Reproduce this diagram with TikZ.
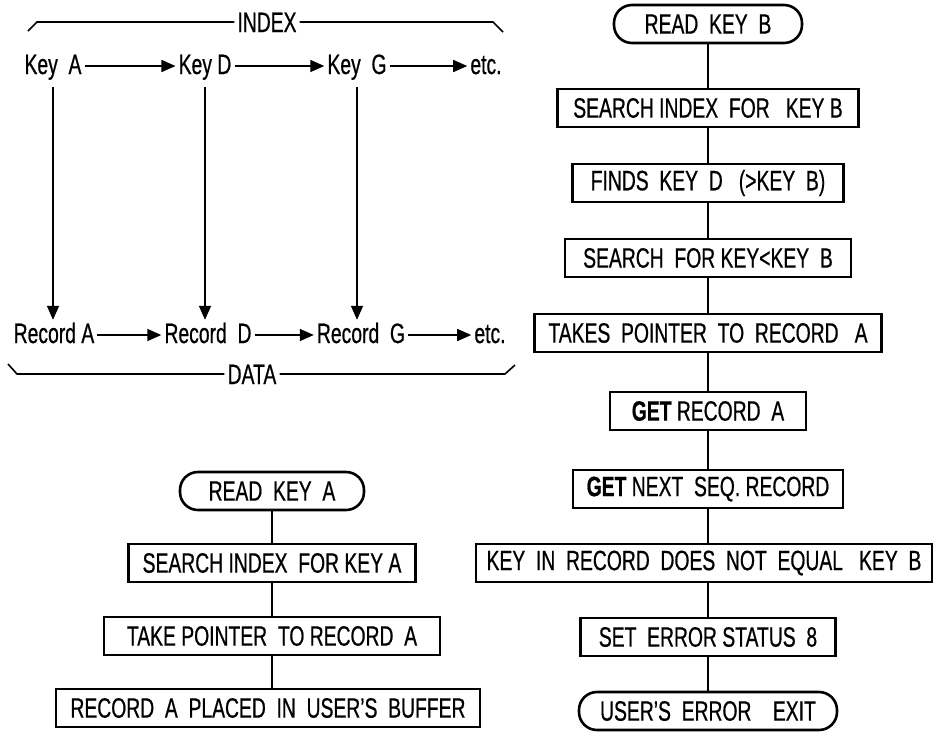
\documentclass[tikz,border=0pt]{standalone}
\usepackage{fontspec}
\setmainfont{Liberation Sans}[FakeStretch=0.69, FakeBold=0.6]
\usetikzlibrary{arrows.meta,positioning}

\begin{document}
\begin{tikzpicture}[x=1pt, y=-1pt,
  lbl/.style={font=\fontsize{28}{30}\selectfont, inner sep=3pt, text height=20pt, text depth=4pt},
  proc/.style={draw, line width=2.6pt, font=\fontsize{28}{30}\selectfont, minimum height=38pt, inner sep=3pt},
  term/.style={proc, rounded corners=18pt},
  arr/.style={-{Triangle[length=14pt, width=12pt]}, line width=1.5pt},
  con/.style={line width=1.6pt}]
  \useasboundingbox (0,0) rectangle (934,732);
  % index and data chains (top left)
  \node[lbl] (idx) at (267,24)  {INDEX};
  \node[lbl] (ka)  at (53,66)   {Key\ \ A};
  \node[lbl] (kd)  at (205,66)  {Key D};
  \node[lbl] (kg)  at (357,66)  {Key\ \ G};
  \node[lbl] (ke)  at (486,66)  {etc.};
  \node[lbl] (ra)  at (54,335)  {Record A};
  \node[lbl] (rd)  at (208,335) {Record\ \ D};
  \node[lbl] (rg)  at (361,335) {Record\ \ G};
  \node[lbl] (re)  at (490,335) {etc.};
  \node[lbl] (dat) at (252,376) {DATA};
  \draw[con] (28,31) -- (37,22) -- (idx.west |- 0,22);
  \draw[con] (idx.east |- 0,22) -- (493,22) -- (503,32);
  \draw[con] (8,364) -- (17,374) -- (dat.west |- 0,374);
  \draw[con] (dat.east |- 0,374) -- (505,374) -- (515,365);
  \draw[arr] (ka) -- (kd);
  \draw[arr] (kd) -- (kg);
  \draw[arr] (kg) -- (ke);
  \draw[arr] (ra) -- (rd);
  \draw[arr] (rd) -- (rg);
  \draw[arr] (rg) -- (re);
  \draw[arr, shorten <=6pt] (ka.south) -- (ka.south |- ra.north);
  \draw[arr, shorten <=6pt] (kd.south) -- (kd.south |- rd.north);
  \draw[arr, shorten <=6pt] (kg.south) -- (kg.south |- rg.north);
  % read key A (bottom left)
  \node[term, minimum width=184pt] (rka) at (272,491) {READ\ \ KEY\ \ A};
  \node[proc, minimum width=287pt] (sia) at (272,563) {SEARCH INDEX\ \ FOR KEY A};
  \node[proc, minimum width=336pt] (tpr) at (272,636) {TAKE POINTER\ \ TO RECORD\ \ A};
  \node[proc, minimum width=424pt] (rpb) at (268,708) {RECORD\ \ A\ \ PLACED\ \ IN\ \ USER'S\ \ BUFFER};
  \draw[con] (rka) -- (sia);
  \draw[con] (sia) -- (tpr);
  \draw[con] (tpr) -- (tpr.south |- rpb.north);
  % read key B (right)
  \node[term, minimum width=188pt] (rkb) at (708,24)  {READ\ \ KEY\ \ B};
  \node[proc, minimum width=301pt] (sib) at (708,108) {SEARCH INDEX\ \ FOR\ \ \ KEY B};
  \node[proc, minimum width=271pt] (fkd) at (708,183) {FINDS\ \ KEY\ \ D\ \ \ (>KEY\ \ B)};
  \node[proc, minimum width=286pt] (sfk) at (708,258) {SEARCH\ \ FOR KEY<KEY\ \ B};
  \node[proc, minimum width=347pt] (tpa) at (708,333) {TAKES\ \ POINTER\ \ TO\ \ RECORD\ \ \ A};
  \node[proc, minimum width=196pt] (gra) at (708,411) {\textbf{GET} RECORD\ \ A};
  \node[proc, minimum width=270pt] (gns) at (708,489) {\textbf{GET} NEXT\ \ SEQ. RECORD};
  \node[proc, minimum width=456pt] (kne) at (704,563) {KEY\ \ IN\ \ RECORD\ \ DOES\ \ NOT\ \ EQUAL\ \ \ KEY\ \ B};
  \node[proc, minimum width=255pt] (ses) at (708,637) {SET\ \ ERROR STATUS\ \ 8};
  \node[term, minimum width=258pt] (uee) at (708,711) {USER'S\ \ ERROR\ \ \ \ EXIT};
  \draw[con] (rkb) -- (sib);
  \draw[con] (sib) -- (fkd);
  \draw[con] (fkd) -- (sfk);
  \draw[con] (sfk) -- (tpa);
  \draw[con] (tpa) -- (gra);
  \draw[con] (gra) -- (gns);
  \draw[con] (gns) -- (gns.south |- kne.north);
  \draw[con] (ses.north |- kne.south) -- (ses);
  \draw[con] (ses) -- (uee);
\end{tikzpicture}
\end{document}
